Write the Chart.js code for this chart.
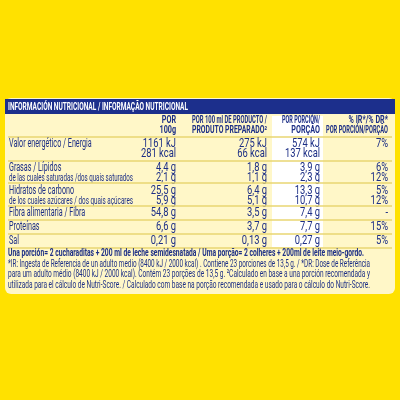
<!DOCTYPE html>
<html><head><meta charset="utf-8">
<script src="https://cdn.jsdelivr.net/npm/chart.js@4/dist/chart.umd.min.js"></script>
<style>html,body{margin:0;padding:0;background:#ffe100;}#c{display:block}</style>
</head><body><canvas id="c" width="400" height="400"></canvas>
<script>
const title = "INFORMACIÓN NUTRICIONAL / INFORMAÇÃO NUTRICIONAL";
const colHeaders = [["POR","100g"],["POR 100 ml DE PRODUCTO /","PRODUTO PREPARADO²"],["POR PORCIÓN/","PORÇÃO"],["% IR*/% DR*","POR PORCIÓN/PORÇÃO"]];
const rowLabels = [["Valor energético / Energia",""],["Grasas / Lípidos","de las cuales saturadas /dos quais saturados"],["Hidratos de carbono","de los cuales azúcares / dos quais açúcares"],["Fibra alimentaria / Fibra"],["Proteínas"],["Sal"]];
const per100 = [["1161 kJ","281 kcal"],["4,4 g","2,1 g"],["25,5 g","5,9 g"],["54,8 g"],["6,6 g"],["0,21 g"]];
const perPrepared = [["275 kJ","66 kcal"],["1,8 g","1,1 g"],["6,4 g","5,1 g"],["3,5 g"],["3,7 g"],["0,13 g"]];
const perPortion = [["574 kJ","137 kcal"],["3,9 g","2,3 g"],["13,3 g","10,7 g"],["7,4 g"],["7,7 g"],["0,27 g"]];
const pctRI = [["7%",""],["6%","12%"],["5%","12%"],["-"],["15%"],["5%"]];
const footBold = "Una porción= 2 cucharaditas + 200 ml de leche semidesnatada / Uma porção= 2 colheres + 200ml de leite meio-gordo.";
const footLines = ["*IR: Ingesta de Referencia de un adulto medio (8400 kJ / 2000 kcal) . Contiene 23 porciones de 13,5 g. / *DR: Dose de Referência","para um adulto médio (8400 kJ / 2000 kcal). Contém 23 porções de 13,5 g. ²Calculado en base a una porción recomendada y","utilizada para el cálculo de Nutri-Score. / Calculado com base na porção recomendada e usado para o cálculo do Nutri-Score."];

const BLUE="#1d2f86", FONT='Roboto,sans-serif', SQ=0.72;
const rowTops=[138,162,185,207,221,235], rowBottoms=[160,182,205,219,233,247];
const colRight=[176,267,320,388];

function fit(ctx,t,x,y,maxW,align,sq){sq=sq||SQ;ctx.textAlign=align;let w=ctx.measureText(t).width*sq;let s=sq;if(w>maxW)s=sq*maxW/w;ctx.save();ctx.translate(x,y);ctx.scale(s,1);ctx.fillText(t,0,0);ctx.restore();}

const tablePlugin={id:'tbl',afterDraw(chart){
 const ctx=chart.ctx;ctx.save();ctx.textBaseline='middle';
 ctx.fillStyle="#fff7c8";ctx.beginPath();ctx.roundRect(5,98,390,196,6);ctx.fill();
 ctx.fillStyle="#ffffff";ctx.fillRect(272,116,51,131);
 ctx.fillStyle="#1c2f8c";ctx.fillRect(5,99,390,15);
 ctx.fillStyle="#fff";ctx.font='bold 11px '+FONT;fit(ctx,title,8,107,180,'left');
 ctx.fillStyle=BLUE;ctx.font='bold 10px '+FONT;
 const hw=[30,75,38,62];
 colHeaders.forEach((h,i)=>{fit(ctx,h[0],colRight[i],120,hw[i],'right');fit(ctx,h[1],colRight[i],130,hw[i],'right');});
 ctx.strokeStyle="#e8d672";ctx.lineWidth=1.5;
 ctx.beginPath();ctx.moveTo(8,137);ctx.lineTo(392,137);ctx.stroke();
 rowLabels.forEach((lab,r)=>{
  const top=rowTops[r],bot=rowBottoms[r];
  const two=lab.length>1;
  const l1=two?top+6:(top+bot)/2, l2=top+16;
  ctx.font='12px '+FONT;ctx.fillStyle=BLUE;
  fit(ctx,lab[0],9,l1,140,'left',0.6);
  if(two&&lab[1]){ctx.font='11px '+FONT;fit(ctx,lab[1],9,l2,124,'left');}
  ctx.font='13px '+FONT;
  [per100,perPrepared,perPortion,pctRI].forEach((arr,c)=>{const v=arr[r];fit(ctx,v[0],colRight[c],l1,60,'right');if(v[1])fit(ctx,v[1],colRight[c],l2,60,'right');});
  ctx.beginPath();ctx.moveTo(8,bot+1);ctx.lineTo(392,bot+1);ctx.stroke();
 });
 ctx.font='bold 11px '+FONT;fit(ctx,footBold,8,253,356,'left');
 ctx.font='11px '+FONT;footLines.forEach((t,i)=>fit(ctx,t,8,264+i*10.5,362,'left'));
 ctx.restore();
}};
new Chart(document.getElementById('c'),{type:'bar',
 data:{labels:rowLabels.map(l=>l[0]),datasets:[{data:per100.map(()=>0)}]},
 options:{responsive:false,animation:false,events:[],indexAxis:'y',
  plugins:{legend:{display:false},tooltip:{enabled:false}},
  scales:{x:{display:false},y:{display:false}}},
 plugins:[tablePlugin]});
</script></body></html>
